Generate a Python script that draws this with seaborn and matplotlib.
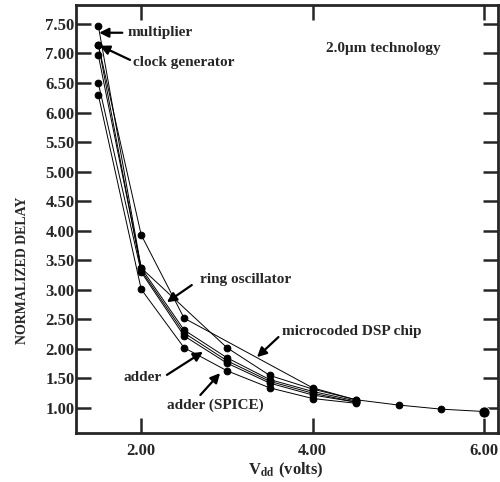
import matplotlib
matplotlib.use("Agg")
import matplotlib.pyplot as plt
import pandas as pd
import seaborn as sns

# supply voltage points (volts) and normalized delay per circuit
vdd_multiplier = [1.5, 2.0, 2.5, 3.0, 3.5, 4.0, 4.5]
delay_multiplier = [7.47, 3.37, 2.32, 1.85, 1.48, 1.28, 1.12]

vdd_clock = [1.5, 2.0, 2.5, 3.0, 3.5, 4.0, 4.5]
delay_clock = [7.15, 3.33, 2.27, 1.80, 1.45, 1.25, 1.10]

vdd_ring = [1.5, 2.0, 3.0, 3.5, 4.0, 4.5]
delay_ring = [6.97, 3.37, 2.02, 1.55, 1.32, 1.14]

vdd_dsp = [1.5, 2.0, 2.5, 4.0, 4.5, 5.0, 5.5, 6.0]
delay_dsp = [7.15, 3.93, 2.52, 1.34, 1.14, 1.05, 0.98, 0.94]

vdd_adder = [1.5, 2.0, 2.5, 3.0, 3.5, 4.0, 4.5]
delay_adder = [6.50, 3.30, 2.22, 1.76, 1.42, 1.22, 1.10]

vdd_spice = [1.5, 2.0, 2.5, 3.0, 3.5, 4.0, 4.5]
delay_spice = [6.30, 3.01, 2.02, 1.63, 1.34, 1.16, 1.08]

y_ticks = [1.0, 1.5, 2.0, 2.5, 3.0, 3.5, 4.0, 4.5, 5.0, 5.5, 6.0, 6.5, 7.0, 7.5]
x_ticks = [2.0, 4.0, 6.0]

series = {
    "multiplier": (vdd_multiplier, delay_multiplier),
    "clock generator": (vdd_clock, delay_clock),
    "ring oscillator": (vdd_ring, delay_ring),
    "microcoded DSP chip": (vdd_dsp, delay_dsp),
    "adder": (vdd_adder, delay_adder),
    "adder (SPICE)": (vdd_spice, delay_spice),
}
rows = []
for name, (xs, ys) in series.items():
    for x, y in zip(xs, ys):
        rows.append({"chip": name, "vdd": x, "delay": y})
df = pd.DataFrame(rows)

sns.set_style("ticks")
plt.rcParams["font.family"] = ["Liberation Serif", "DejaVu Serif"]
plt.rcParams["font.weight"] = "bold"
plt.rcParams["mathtext.fontset"] = "stix"

fig = plt.figure(figsize=(5, 4.82), dpi=100)
ax = fig.add_axes([0.152, 0.1017, 0.844, 0.888])

sns.lineplot(data=df, x="vdd", y="delay", units="chip", estimator=None, sort=False,
             color="black", lw=0.7, marker="o", markersize=4.8,
             markeredgecolor="black", ax=ax, legend=False)
last = df[(df["chip"] == "microcoded DSP chip") & (df["vdd"] == vdd_dsp[-1])]
sns.scatterplot(data=last, x="vdd", y="delay", color="black", s=65, ax=ax, legend=False)

ax.set_xlim(1.24, 6.16)
ax.set_ylim(0.577, 7.82)
ax.set_xticks(x_ticks)
ax.set_xticklabels([f"{v:.2f}" for v in x_ticks], fontsize=12, fontweight="bold")
ax.set_yticks(y_ticks)
ax.set_yticklabels([f"{v:.2f}" for v in y_ticks], fontsize=12, fontweight="bold")
ax.tick_params(direction="in", length=11, width=1.8, top=True, right=True)
ax.tick_params(axis="x", pad=7)
ax.tick_params(axis="y", pad=1)
for sp in ax.spines.values():
    sp.set_linewidth(2)
ax.set_xlabel("")
ax.set_ylabel("")

fig.text(0.046, 0.44, "NORMALIZED DELAY", rotation=90, ha="center", va="center",
         fontsize=10, fontweight="bold")
fig.text(0.572, 0.025, r"V$_{\mathbf{dd}}$ (volts)", ha="center", va="center",
         fontsize=12, fontweight="bold")

arrow = dict(arrowstyle="-|>", color="black", lw=1.6, mutation_scale=14, shrinkA=0, shrinkB=0)
notes = [
    # label, tip, tail, text pos, ha
    ("multiplier", (1.51, 7.35), (1.78, 7.35), (1.84, 7.36), "left"),
    ("clock generator", (1.52, 7.13), (1.87, 6.89), (1.91, 6.84), "left"),
    ("ring oscillator", (2.30, 2.79), (2.59, 3.08), (2.69, 3.18), "left"),
    ("microcoded DSP chip", (3.35, 1.86), (3.60, 2.20), (3.64, 2.29), "left"),
    ("adder", (2.72, 1.95), (2.30, 1.56), (2.245, 1.51), "right"),
    ("adder (SPICE)", (2.92, 1.59), (2.69, 1.22), (2.30, 1.05), "left"),
]
for label, tip, tail, pos, ha in notes:
    ax.annotate("", xy=tip, xytext=tail, arrowprops=arrow)
    ax.text(pos[0], pos[1], label, ha=ha, va="center", fontsize=11, fontweight="bold")

ax.text(4.15, 7.09, "2.0\u03bcm technology", ha="left", va="center",
        fontsize=11, fontweight="bold")

fig.savefig("out.png", dpi=100)
plt.close(fig)
